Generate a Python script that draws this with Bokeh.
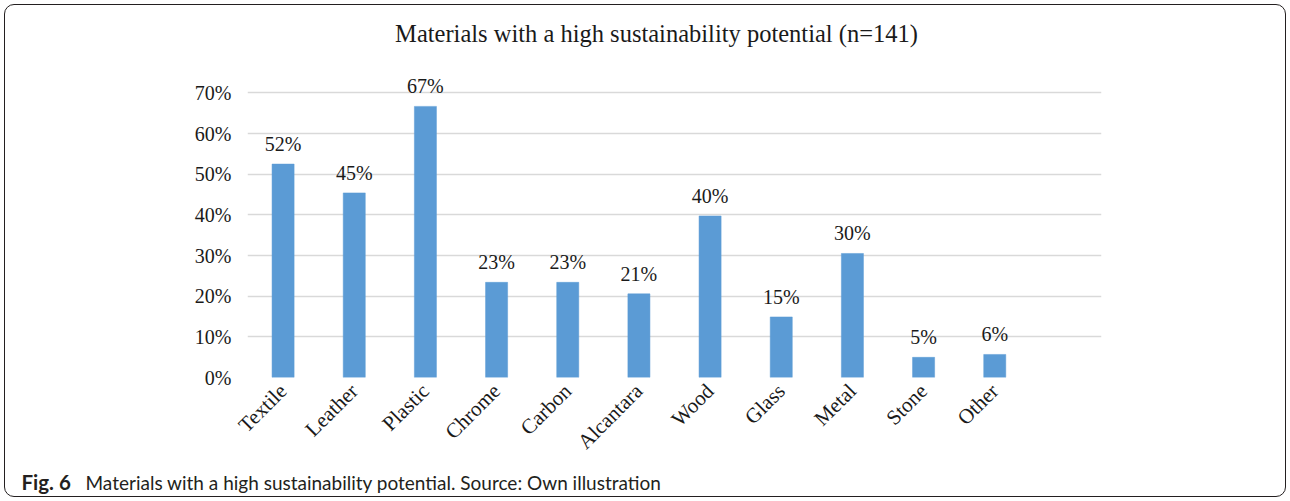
import math

from bokeh.core.properties import value
from bokeh.embed import file_html
from bokeh.layouts import column
from bokeh.models import (ColumnDataSource, FactorRange, FixedTicker, LabelSet,
                          Plot, Range1d, CustomJSTickFormatter)
from bokeh.plotting import figure
from bokeh.resources import INLINE

# Share of respondents (n=141) naming each material, in percent
materials = ["Textile", "Leather", "Plastic", "Chrome", "Carbon", "Alcantara",
             "Wood", "Glass", "Metal", "Stone", "Other"]
shares = [52.48, 45.39, 66.67, 23.40, 23.40, 20.57, 39.72, 14.89, 30.50, 4.96, 5.67]
y_ticks = [0, 10, 20, 30, 40, 50, 60, 70]

title_text = "Materials with a high sustainability potential (n=141)"
caption_bold = "Fig. 6"
caption_text = "Materials with a high sustainability potential. Source: Own illustration"

SERIF = "Liberation Serif"
SANS = "Lato"
BAR_BLUE = "#5b9bd5"
GRID_GREY = "#d9d9d9"
INK = "#1a1a1a"
CAPTION_INK = "#231f20"
WIDTH = 1290

# keep each strip's frame its own size instead of lining it up with the chart's
UNALIGNED = {"frame_align": False} if "frame_align" in Plot.properties() else {}


def text_strip(height):
    """A plain figure whose frame is the whole canvas, measured in pixels."""
    f = figure(width=WIDTH, height=height, x_range=Range1d(0, WIDTH),
               y_range=Range1d(height, 0), output_backend="svg", toolbar_location=None,
               x_axis_location=None, y_axis_location=None, min_border=0, **UNALIGNED)
    f.outline_line_color = None
    f.grid.visible = False
    f.background_fill_color = None
    f.border_fill_color = None
    return f


def strip_text(fig, x, y, text, font, size, style="normal", align="left", color=INK):
    fig.add_layout(LabelSet(x="x", y="y", text="text",
                            source=ColumnDataSource(dict(x=[x], y=[y], text=[text])),
                            text_align=align, text_baseline="alphabetic",
                            text_font=value(font), text_font_size=size,
                            text_font_style=style, text_color=color))


# heading strip
head = text_strip(60)
strip_text(head, 656, 41.5, title_text, SERIF, "24.5px", align="center")

# bar chart
labels = [f"{round(v)}%" for v in shares]
src = ColumnDataSource(dict(material=materials, share=shares, label=labels))

# one empty slot on the right keeps the category band as wide as the gridlines
factors = materials + [" "]

p = figure(width=WIDTH, height=409, x_range=FactorRange(*factors, range_padding=0),
           y_range=Range1d(0, 75), output_backend="svg", toolbar_location=None,
           min_border_left=247, min_border_right=189, min_border_top=12,
           min_border_bottom=92, **UNALIGNED)
p.outline_line_color = None
p.background_fill_color = None
p.border_fill_color = None

p.vbar(x="material", top="share", width=0.31, source=src,
       fill_color=BAR_BLUE, line_color=BAR_BLUE, line_width=0.5)

p.add_layout(LabelSet(x="material", y="share", text="label", source=src,
                      text_align="center", text_baseline="alphabetic", y_offset=13,
                      text_font=value(SERIF), text_font_size="20px", text_color=INK))

p.xgrid.grid_line_color = None
p.ygrid.grid_line_color = GRID_GREY
p.ygrid.grid_line_width = 1.5
p.yaxis.ticker = FixedTicker(ticks=y_ticks)
p.yaxis.formatter = CustomJSTickFormatter(code="return tick.toFixed(0) + '%';")
for ax in (p.xaxis[0], p.yaxis[0]):
    ax.axis_line_color = None
    ax.major_tick_line_color = None
    ax.minor_tick_line_color = None
    ax.major_tick_out = 0
    ax.major_tick_in = 0
    ax.major_label_text_font = SERIF
    ax.major_label_text_color = INK
p.yaxis.major_label_text_font_size = "20px"
p.xaxis.major_label_text_font_size = "21px"
p.yaxis.major_label_standoff = 16
p.xaxis.major_label_orientation = math.pi / 4
p.xaxis.major_label_standoff = 10

# caption strip
cap = text_strip(32)
strip_text(cap, 21, 20.3, caption_bold, SANS, "20.5px", style="bold", color=CAPTION_INK)
strip_text(cap, 85, 20.3, caption_text, SANS, "19px", color=CAPTION_INK)

# rounded frame drawn around the whole figure
page = column(head, p, cap, spacing=0,
              styles={"outline": "1.5px solid #231f20", "outline-offset": "-5px",
                      "border-radius": "14px", "background-color": "white"})

open("out.html", "w").write(file_html(page, INLINE))
